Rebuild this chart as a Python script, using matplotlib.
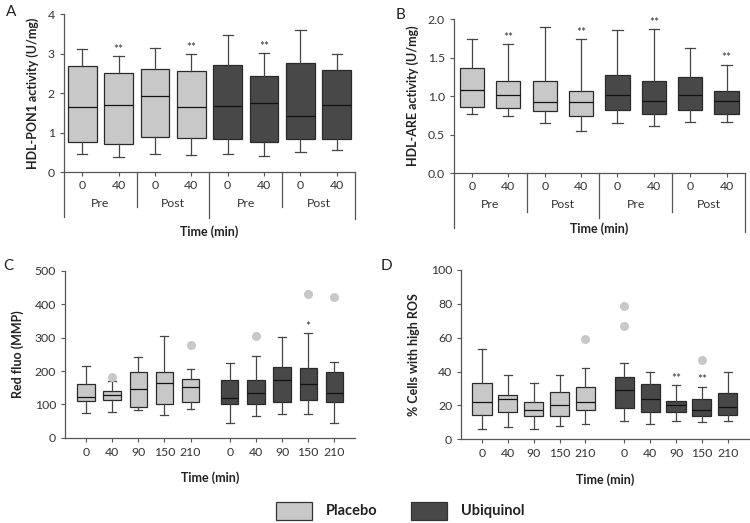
import matplotlib
matplotlib.use("Agg")
import matplotlib.pyplot as plt
import matplotlib.transforms as mtransforms
from matplotlib.patches import Rectangle

plt.rcParams["font.family"] = ["Lato", "DejaVu Sans"]

# ---- data ----
# Panel A: HDL-PON1 activity, 4 groups x (0, 40 min)
A_ticks = ["0", "40"] * 4
A_groups = ["Pre", "Post", "Pre", "Post"]
A_lo = [0.45, 0.38, 0.47, 0.44, 0.47, 0.41, 0.50, 0.55]
A_q1 = [0.77, 0.70, 0.90, 0.87, 0.85, 0.75, 0.85, 0.85]
A_med = [1.65, 1.71, 1.92, 1.65, 1.68, 1.76, 1.43, 1.70]
A_q3 = [2.68, 2.51, 2.61, 2.56, 2.71, 2.43, 2.77, 2.59]
A_hi = [3.11, 2.93, 3.13, 2.99, 3.46, 3.01, 3.60, 2.99]
A_sig = ["", "**", "", "**", "", "**", "", ""]

# Panel B: HDL-ARE activity
B_ticks = ["0", "40"] * 4
B_groups = ["Pre", "Post", "Pre", "Post"]
B_lo = [0.77, 0.74, 0.65, 0.55, 0.65, 0.61, 0.66, 0.66]
B_q1 = [0.86, 0.84, 0.81, 0.74, 0.82, 0.77, 0.82, 0.77]
B_med = [1.08, 1.01, 0.92, 0.92, 1.02, 0.93, 1.02, 0.94]
B_q3 = [1.36, 1.20, 1.20, 1.07, 1.27, 1.20, 1.25, 1.07]
B_hi = [1.74, 1.68, 1.90, 1.74, 1.86, 1.87, 1.63, 1.41]
B_sig = ["", "**", "", "**", "", "**", "", "**"]

# Panel C: Red fluo (MMP), placebo then ubiquinol at 0/40/90/150/210 min
C_ticks = ["0", "40", "90", "150", "210"] * 2
C_lo = [75, 78, 82, 69, 85, 45, 66, 71, 71, 43]
C_q1 = [110, 113, 92, 102, 108, 101, 100, 106, 112, 106]
C_med = [122, 127, 146, 165, 153, 119, 133, 173, 160, 133]
C_q3 = [162, 141, 198, 196, 175, 172, 174, 213, 208, 196]
C_hi = [215, 169, 243, 306, 207, 225, 244, 301, 313, 227]
C_out = [[], [183], [], [], [278], [], [305], [], [431], [422]]
C_sig = ["", "", "", "", "", "", "", "", "*", ""]

# Panel D: % cells with high ROS
D_ticks = ["0", "40", "90", "150", "210"] * 2
D_lo = [5.9, 7.1, 5.9, 7.9, 9.1, 10.8, 9.1, 10.8, 10.0, 10.8]
D_q1 = [14.2, 16.0, 14.0, 14.0, 17.1, 18.7, 16.3, 16.0, 14.0, 14.4]
D_med = [21.9, 24.0, 17.1, 20.1, 21.9, 28.9, 24.0, 20.1, 17.1, 18.9]
D_q3 = [33.5, 26.4, 21.9, 27.8, 31.1, 36.8, 32.9, 22.4, 24.0, 27.2]
D_hi = [53.1, 38.0, 33.0, 38.0, 42.1, 44.9, 40.0, 31.9, 31.1, 40.0]
D_out = [[], [], [], [], [59], [78.9, 66.9], [], [], [47], []]
D_sig = ["", "", "", "", "", "", "", "**", "**", ""]

LIGHT = "#c8c8c8"
DARK = "#484848"
EDGE = "#454545"
TXT = "#333333"


def draw_boxes(ax, pos, lo, q1, med, q3, hi, out, sig, colors, width, cap, ymax):
    stats = []
    for i in range(len(med)):
        stats.append(dict(whislo=lo[i], q1=q1[i], med=med[i], q3=q3[i],
                          whishi=hi[i], fliers=out[i] if out else []))
    bp = ax.bxp(stats, positions=pos, widths=width, patch_artist=True,
                showfliers=True, capwidths=cap,
                boxprops=dict(edgecolor="#2a2a2a", linewidth=0.9),
                medianprops=dict(color="#111111", linewidth=0.9),
                whiskerprops=dict(color=EDGE, linewidth=0.9),
                capprops=dict(color=EDGE, linewidth=0.9),
                flierprops=dict(marker="o", markersize=5.5, markerfacecolor=LIGHT,
                                markeredgecolor=LIGHT))
    for b, c in zip(bp["boxes"], colors):
        b.set_facecolor(c)
    for p, h, s in zip(pos, hi, sig):
        if s:
            ax.text(p, h + ymax * 0.008, s, ha="center", va="bottom",
                    fontsize=8.5, color=TXT)


def style_axes(ax, ylim, yticks, yfmt, ylabel, labelpad):
    ax.set_ylim(*ylim)
    ax.set_yticks(yticks)
    ax.set_yticklabels([yfmt.format(v) for v in yticks])
    for s in ("top", "right"):
        ax.spines[s].set_visible(False)
    for s in ("left", "bottom"):
        ax.spines[s].set_color("#555555")
        ax.spines[s].set_linewidth(0.9)
    ax.tick_params(axis="both", colors="#555555", labelcolor=TXT, labelsize=8.8,
                   length=3, width=0.8)
    ax.set_ylabel(ylabel, fontsize=9, fontweight="bold", color="#222222",
                  labelpad=labelpad)


fig = plt.figure(figsize=(7.5, 5.23), dpi=100)

# ---------- A and B: grouped Pre/Post layout ----------
pos8 = list(range(1, 9))
cols8 = [LIGHT] * 4 + [DARK] * 4

specs = [
    ([0.0853, 0.671, 0.388, 0.302], A_lo, A_q1, A_med, A_q3, A_hi, A_sig,
     (0, 4), [0, 1, 2, 3, 4], "{:.0f}", "HDL-PON1 activity (U/mg)", 0.79, A_ticks, A_groups,
     [-0.285, -0.22, -0.29, -0.22, -0.30], -0.196, -0.38, 6),
    ([0.605, 0.669, 0.388, 0.2945], B_lo, B_q1, B_med, B_q3, B_hi, B_sig,
     (0, 2), [0, 0.5, 1.0, 1.5, 2.0], "{:.1f}", "HDL-ARE activity (U/mg)", 0.67, B_ticks, B_groups,
     [-0.355, -0.25, -0.29, -0.25, -0.38], -0.207, -0.36, 6),
]
for (rect, lo, q1, med, q3, hi, sig, ylim, yt, yfmt, ylab, w, xt, grp,
     seps, grp_y, lab_y, lp) in specs:
    ax = fig.add_axes(rect)
    draw_boxes(ax, pos8, lo, q1, med, q3, hi, None, sig, cols8, w, 0.28, ylim[1])
    ax.set_xlim(0.5, 8.5)
    ax.set_xticks(pos8)
    ax.set_xticklabels(xt)
    style_axes(ax, ylim, yt, yfmt, ylab, lp)
    ax.tick_params(axis="x", pad=3)
    trans = mtransforms.blended_transform_factory(ax.transData, ax.transAxes)
    for xs, ybot in zip([0.5, 2.5, 4.5, 6.5, 8.5], seps):
        ax.plot([xs, xs], [0, ybot], transform=trans, color="#555555", lw=0.9,
                clip_on=False)
    for k, g in enumerate(grp):
        ax.text(1.5 + 2 * k, grp_y, g, transform=trans, ha="center", va="center",
                fontsize=8.8, color=TXT)
    ax.text(4.5, lab_y, "Time (min)", transform=trans, ha="center", va="center",
            fontsize=9, fontweight="bold", color="#222222")

# ---------- C and D: time course ----------
pos10 = [1, 2, 3, 4, 5, 6.5, 7.5, 8.5, 9.5, 10.5]
cols10 = [LIGHT] * 5 + [DARK] * 5

specs2 = [
    ([0.0867, 0.163, 0.387, 0.319], C_lo, C_q1, C_med, C_q3, C_hi, C_out, C_sig,
     (0, 500), [0, 100, 200, 300, 400, 500], "Red fluo (MMP)", 0.66, 8),
    ([0.615, 0.160, 0.383, 0.324], D_lo, D_q1, D_med, D_q3, D_hi, D_out, D_sig,
     (0, 100), [0, 20, 40, 60, 80, 100], "% Cells with high ROS", 0.74, 8),
]
for (rect, lo, q1, med, q3, hi, out, sig, ylim, yt, ylab, w, lp) in specs2:
    ax = fig.add_axes(rect)
    draw_boxes(ax, pos10, lo, q1, med, q3, hi, out, sig, cols10, w, 0.3, ylim[1])
    ax.set_xlim(0.2, 11.3)
    ax.set_xticks(pos10)
    ax.set_xticklabels(C_ticks)
    style_axes(ax, ylim, yt, "{:.0f}", ylab, lp)
    ax.set_xlabel("Time (min)", fontsize=9, fontweight="bold", color="#222222",
                  labelpad=10)

# ---------- panel letters ----------
for x, y, s in [(0.008, 0.99, "A"), (0.528, 0.985, "B"), (0.004, 0.505, "C"),
                (0.508, 0.505, "D")]:
    fig.text(x, y, s, fontsize=11, color="#222222", va="top")

# ---------- legend ----------
for x0, c, lab in [(276, LIGHT, "Placebo"), (411, DARK, "Ubiquinol")]:
    fig.patches.append(Rectangle((x0 / 750, 1 - 520 / 523), 36 / 750, 18 / 523,
                                 transform=fig.transFigure, facecolor=c,
                                 edgecolor="#333333", linewidth=0.9))
    fig.text((x0 + 50) / 750, 1 - 511 / 523, lab, fontsize=10.5, fontweight="bold",
             color="#222222", va="center", ha="left")

fig.savefig("out.png", dpi=100)
